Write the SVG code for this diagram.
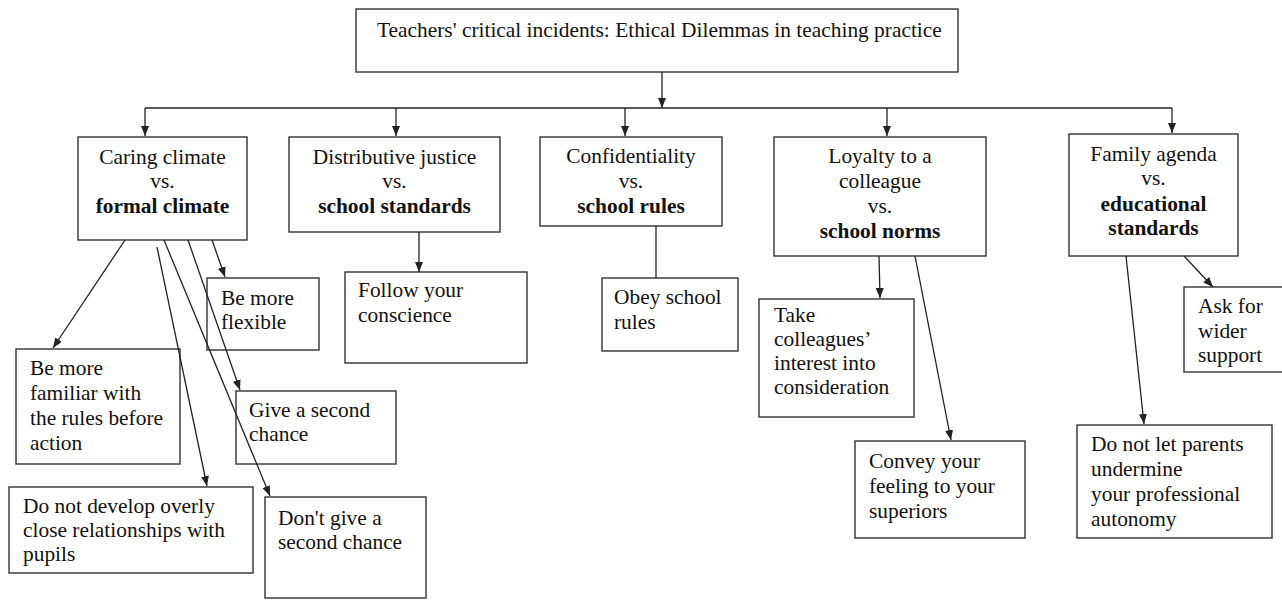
<svg xmlns="http://www.w3.org/2000/svg" width="1282" height="600" viewBox="0 0 1282 600">
<defs>
<marker id="ah" viewBox="0 0 10 8" refX="10" refY="4" markerWidth="10" markerHeight="8" markerUnits="userSpaceOnUse" orient="auto">
<path d="M0,0 L10,4 L0,8 z" fill="#222"/>
</marker>
<style>
rect{fill:none;stroke:#333;stroke-width:1.4}
text{font-family:"Liberation Serif","Times New Roman",serif;font-size:21.4px;fill:#111}
.c{text-anchor:middle}
.b{font-weight:bold}
.ln{fill:none;stroke:#222;stroke-width:1.3}
.ar{marker-end:url(#ah)}
</style>
</defs>
<rect x="0" y="0" width="1282" height="600" style="fill:#fff;stroke:none"/>
<g id="title">
<rect x="356" y="9" width="602" height="63"/>
<text x="377" y="37">Teachers' critical incidents: Ethical Dilemmas in teaching practice</text>
</g>
<g id="caring">
<rect x="78" y="137" width="169" height="103"/>
<text class="c" x="162.5" y="164">Caring climate</text>
<text class="c" x="162.5" y="188">vs.</text>
<text class="c b" x="162.5" y="213">formal climate</text>
</g>
<g id="distributive">
<rect x="289" y="137" width="211" height="95"/>
<text class="c" x="394.5" y="164">Distributive justice</text>
<text class="c" x="394.5" y="188">vs.</text>
<text class="c b" x="394.5" y="213">school standards</text>
</g>
<g id="confidentiality">
<rect x="540" y="137" width="182" height="89"/>
<text class="c" x="631" y="163">Confidentiality</text>
<text class="c" x="631" y="188">vs.</text>
<text class="c b" x="631" y="213">school rules</text>
</g>
<g id="loyalty">
<rect x="774" y="137" width="212" height="119"/>
<text class="c" x="880" y="163">Loyalty to a</text>
<text class="c" x="880" y="188">colleague</text>
<text class="c" x="880" y="213">vs.</text>
<text class="c b" x="880" y="238">school norms</text>
</g>
<g id="family">
<rect x="1069" y="134" width="169" height="122"/>
<text class="c" x="1153.5" y="161">Family agenda</text>
<text class="c" x="1153.5" y="185">vs.</text>
<text class="c b" x="1153.5" y="211">educational</text>
<text class="c b" x="1153.5" y="235">standards</text>
</g>
<g id="flexible">
<rect x="207" y="278" width="112" height="72"/>
<text x="221" y="305">Be more</text>
<text x="221" y="329">flexible</text>
</g>
<g id="familiar">
<rect x="16" y="349" width="164" height="115"/>
<text x="30" y="375">Be more</text>
<text x="30" y="400">familiar with</text>
<text x="30" y="425">the rules before</text>
<text x="30" y="450">action</text>
</g>
<g id="second-chance">
<rect x="236" y="391" width="160" height="73"/>
<text x="249" y="417">Give a second</text>
<text x="249" y="441">chance</text>
</g>
<g id="close-relationships">
<rect x="9" y="487" width="244" height="86"/>
<text x="23" y="513">Do not develop overly</text>
<text x="23" y="537">close relationships with</text>
<text x="23" y="561">pupils</text>
</g>
<g id="no-second-chance">
<rect x="265" y="497" width="161" height="101"/>
<text x="278" y="525">Don't give a</text>
<text x="278" y="549">second chance</text>
</g>
<g id="conscience">
<rect x="345" y="272" width="182" height="91"/>
<text x="358" y="297">Follow your</text>
<text x="358" y="322">conscience</text>
</g>
<g id="obey">
<rect x="602" y="278" width="136" height="73"/>
<text x="614" y="304">Obey school</text>
<text x="614" y="329">rules</text>
</g>
<g id="colleagues-interest">
<rect x="759" y="299" width="155" height="118"/>
<text x="774" y="322">Take</text>
<text x="774" y="346">colleagues’</text>
<text x="774" y="370">interest into</text>
<text x="774" y="394">consideration</text>
</g>
<g id="convey">
<rect x="855" y="441" width="170" height="97"/>
<text x="869" y="468">Convey your</text>
<text x="869" y="493">feeling to your</text>
<text x="869" y="518">superiors</text>
</g>
<g id="support">
<rect x="1184" y="287" width="110" height="85"/>
<text x="1198" y="313">Ask for</text>
<text x="1198" y="338">wider</text>
<text x="1198" y="362">support</text>
</g>
<g id="autonomy">
<rect x="1077" y="425" width="195" height="113"/>
<text x="1091" y="451">Do not let parents</text>
<text x="1091" y="476">undermine</text>
<text x="1091" y="501">your professional</text>
<text x="1091" y="526">autonomy</text>
</g>
<g id="connectors">
<path class="ln ar" d="M662,72 V108"/>
<path class="ln" d="M145,108 H1172"/>
<path class="ln ar" d="M145,108 V136"/>
<path class="ln ar" d="M396,108 V136"/>
<path class="ln ar" d="M625,108 V136"/>
<path class="ln ar" d="M887,108 V136"/>
<path class="ln ar" d="M1172,108 V133"/>
<path class="ln ar" d="M419,232 V272"/>
<path class="ln" d="M656,226 V278"/>
<path class="ln ar" d="M879,256 L880,298"/>
<path class="ln ar" d="M915,256 L951,440"/>
<path class="ln ar" d="M1126,256 L1144,424"/>
<path class="ln ar" d="M1184,256 L1213,287"/>
<path class="ln ar" d="M125,240 L53,348"/>
<path class="ln ar" d="M157,247 L207,486"/>
<path class="ln ar" d="M164,240 L270,496"/>
<path class="ln ar" d="M188,240 L240,390"/>
<path class="ln ar" d="M212,240 L225,277"/>
</g>
</svg>
